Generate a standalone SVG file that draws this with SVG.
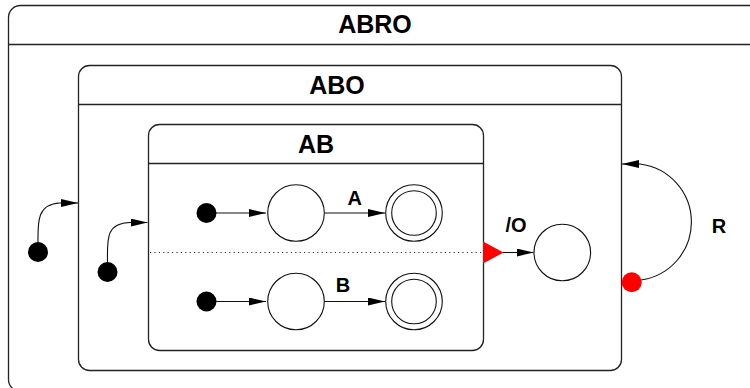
<svg xmlns="http://www.w3.org/2000/svg" width="750" height="388" viewBox="0 0 750 388">
<style>
.box{fill:#fff;stroke:#222;stroke-width:1.3}
.hdr{stroke:#222;stroke-width:1.3}
.st{fill:#fff;stroke:#111;stroke-width:1.1}
.ttl{font-family:"Liberation Sans",Arial,sans-serif;font-weight:bold;font-size:25px;text-anchor:middle;fill:#000}
.lbl{font-family:"Liberation Sans",Arial,sans-serif;font-weight:bold;font-size:20px;text-anchor:middle;fill:#000}
.ed{fill:none;stroke:#111;stroke-width:1.1;marker-end:url(#ah)}
.init{fill:#000}
</style>
<defs>
<marker id="ah" markerWidth="17" markerHeight="8" refX="17" refY="4" orient="auto" markerUnits="userSpaceOnUse">
<path d="M0,0 L17,4 L0,8 Z" fill="#000"/>
</marker>
</defs>
<g id="ABRO">
<rect class="box" x="8.5" y="5.5" width="770" height="386" rx="12"/>
<line class="hdr" x1="8.5" y1="44.5" x2="750" y2="44.5"/>
<text class="ttl" x="375" y="33">ABRO</text>
</g>
<g id="ABO">
<rect class="box" x="78.5" y="65.5" width="543" height="305" rx="11"/>
<line class="hdr" x1="78.5" y1="104.5" x2="621.5" y2="104.5"/>
<text class="ttl" x="337" y="94">ABO</text>
</g>
<g id="AB">
<rect class="box" x="148.5" y="124.5" width="335" height="226" rx="11"/>
<line class="hdr" x1="148.5" y1="163.5" x2="483.5" y2="163.5"/>
<text class="ttl" x="316" y="153">AB</text>
<line x1="150" y1="252.5" x2="483" y2="252.5" stroke="#333" stroke-width="1" stroke-dasharray="1.2,3.2"/>
</g>
<g id="init_ABRO"><circle class="init" cx="38" cy="252" r="10"/></g>
<g id="init_ABO"><circle class="init" cx="107.5" cy="272" r="10"/></g>
<g id="init_A"><circle class="init" cx="206.5" cy="213" r="10"/></g>
<g id="A1"><circle class="st" cx="296" cy="213" r="28.3"/></g>
<g id="A2"><circle class="st" cx="414" cy="213" r="28.3"/><circle class="st" cx="414" cy="213" r="22.3"/></g>
<g id="init_B"><circle class="init" cx="206.5" cy="301.5" r="10"/></g>
<g id="B1"><circle class="st" cx="296" cy="301.5" r="28.3"/></g>
<g id="B2"><circle class="st" cx="414" cy="301.5" r="28.3"/><circle class="st" cx="414" cy="301.5" r="22.3"/></g>
<g id="O"><circle class="st" cx="562.3" cy="252.5" r="28.3"/></g>
<g id="R_src"><circle cx="631.7" cy="282.3" r="10" fill="#ff0000"/></g>
<g id="connectors">
<path class="ed" d="M38,243 C38,224 36,204 60,203 L78,203"/>
<path class="ed" d="M107.5,262 C107.5,241 105,223 130,222.5 L147.5,222.5"/>
<path class="ed" d="M216,213 L266,213"/>
<path class="ed" d="M324.5,213 L385,213"/>
<path class="ed" d="M216,301.5 L266,301.5"/>
<path class="ed" d="M324.5,301.5 L385,301.5"/>
<polygon points="483,241.5 483,263.5 503.5,252.5" fill="#ff0000"/>
<path class="ed" d="M503,252.5 L533.5,252.5"/>
<path class="ed" d="M641,280 A58.5,58.5 0 0 0 640,164 L622,164"/>
<text class="lbl" x="354.7" y="205">A</text>
<text class="lbl" x="343" y="292">B</text>
<text class="lbl" x="516" y="232">/O</text>
<text class="lbl" x="719" y="233">R</text>
</g>
</svg>
